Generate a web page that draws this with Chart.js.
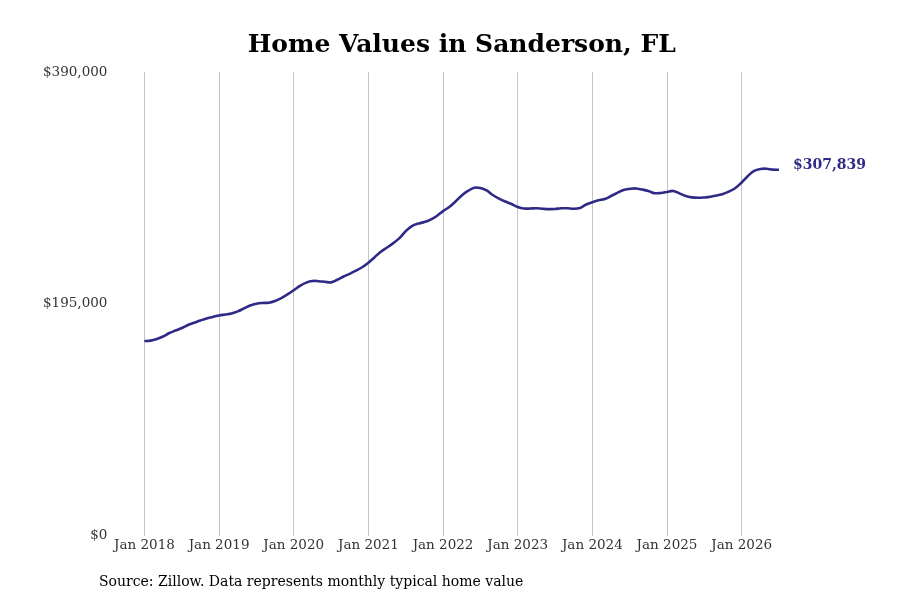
<!DOCTYPE html>
<html>
<head>
<meta charset="utf-8">
<script src="https://cdn.jsdelivr.net/npm/chart.js@4"></script>
<style>
  html, body { margin: 0; padding: 0; background: #fff; }
  #wrap { position: relative; width: 900px; height: 600px; }
  #source {
    position: absolute; left: 99px; top: 573px;
    font: 14px 'DejaVu Serif', serif; color: #000;
  }
</style>
</head>
<body>
<div id="wrap">
  <canvas id="homeChart" width="900" height="600"></canvas>
  <div id="source">Source: Zillow. Data represents monthly typical home value</div>
</div>
<script>
// chart colours
const lineColor = '#2e2a86';
const grid = '#c4c4c4';

// months / years used to build the x labels (Jan 2018 .. Jul 2026)
const months = ['Jan', 'Feb', 'Mar', 'Apr', 'May', 'Jun', 'Jul', 'Aug', 'Sep', 'Oct', 'Nov', 'Dec'];
const years = [2018, 2019, 2020, 2021, 2022, 2023, 2024, 2025, 2026];

// typical home value, monthly
const homeValues = [
  163800, 164100, 165500, 167600, 170500, 172600, 174700, 177300, 179200, 181100, 182800, 184000,
  185300, 186100, 187000, 188700, 191200, 193700, 195200, 195800, 196000, 197500, 199800, 203000,
  206500, 210200, 212900, 214300, 214100, 213600, 213100, 215300, 218000, 220300, 222900, 225800,
  229600, 234300, 238900, 242400, 246100, 250300, 256200, 260400, 262500, 263800, 265900, 268900,
  273000, 276500, 281100, 286200, 290000, 292700, 292400, 290400, 286600, 283600, 281100, 279000,
  276500, 275200, 275200, 275400, 275000, 274700, 274800, 275400, 275400, 275000, 275600, 278600,
  280500, 282100, 283200, 285700, 288300, 290800, 291700, 292100, 291200, 290000, 288100, 288300,
  289100, 290000, 287900, 285700, 284600, 284200, 284500, 285100, 286200, 287400, 289600, 292500,
  297100, 302600, 306900, 308500, 308700, 307900, 307839,
];

// y axis ticks
const yTicks = [0, 195000, 390000];

const labels = [];
years.forEach((yr) => {
  months.forEach((m) => {
    if (labels.length < homeValues.length) labels.push(`${m} ${yr}`);
  });
});

const fmt = (v) => '$' + v.toLocaleString('en-US');

// writes the latest value next to the end of the line
const endLabel = {
  id: 'endLabel',
  afterDatasetsDraw(chart) {
    const meta = chart.getDatasetMeta(0);
    const last = meta.data[meta.data.length - 1];
    const ctx = chart.ctx;
    ctx.save();
    ctx.font = "bold 14px 'DejaVu Serif', serif";
    ctx.fillStyle = lineColor;
    ctx.textBaseline = 'middle';
    ctx.fillText(fmt(homeValues[homeValues.length - 1]), last.x + 14, last.y - 4);
    ctx.restore();
  },
};

const config = {
  type: 'line',
  data: {
    labels: labels,
    datasets: [
      {
        label: 'Home value',
        data: homeValues,
        borderColor: lineColor,
        backgroundColor: lineColor,
        borderWidth: 2.6,
        pointRadius: 0,
        tension: 0.35,
      },
    ],
  },
  options: {
    responsive: false,
    animation: false,
    layout: {
      padding: { left: 6, right: 121, top: 0, bottom: 44 },
    },
    plugins: {
      legend: { display: false },
      tooltip: { enabled: false },
      title: {
        display: true,
        fullSize: false,
        text: 'Home Values in Sanderson, FL',
        color: '#000',
        font: { family: "'DejaVu Serif', serif", size: 25, weight: 'bold' },
        padding: { top: 30, bottom: 12 },
      },
    },
    scales: {
      x: {
        type: 'category',
        offset: false,
        border: { display: false },
        grid: {
          drawTicks: false,
          color: (ctx) => (ctx.index % 12 === 0 ? grid : 'rgba(0,0,0,0)'),
        },
        ticks: {
          autoSkip: false,
          maxRotation: 0,
          padding: 2,
          color: '#333',
          font: { family: "'DejaVu Serif', serif", size: 13.5 },
          callback: function (value, index) {
            return index % 12 === 0 ? labels[index] : '';
          },
        },
      },
      y: {
        min: 0,
        max: 390000,
        border: { display: false },
        grid: { display: false, drawTicks: false },
        afterBuildTicks: (axis) => {
          axis.ticks = yTicks.map((v) => ({ value: v }));
        },
        ticks: {
          padding: 37,
          color: '#333',
          font: { family: "'DejaVu Serif', serif", size: 13.5 },
          callback: (value) => fmt(value),
        },
      },
    },
  },
  plugins: [endLabel],
};

const homeChart = new Chart(document.getElementById('homeChart'), config);
</script>
</body>
</html>
